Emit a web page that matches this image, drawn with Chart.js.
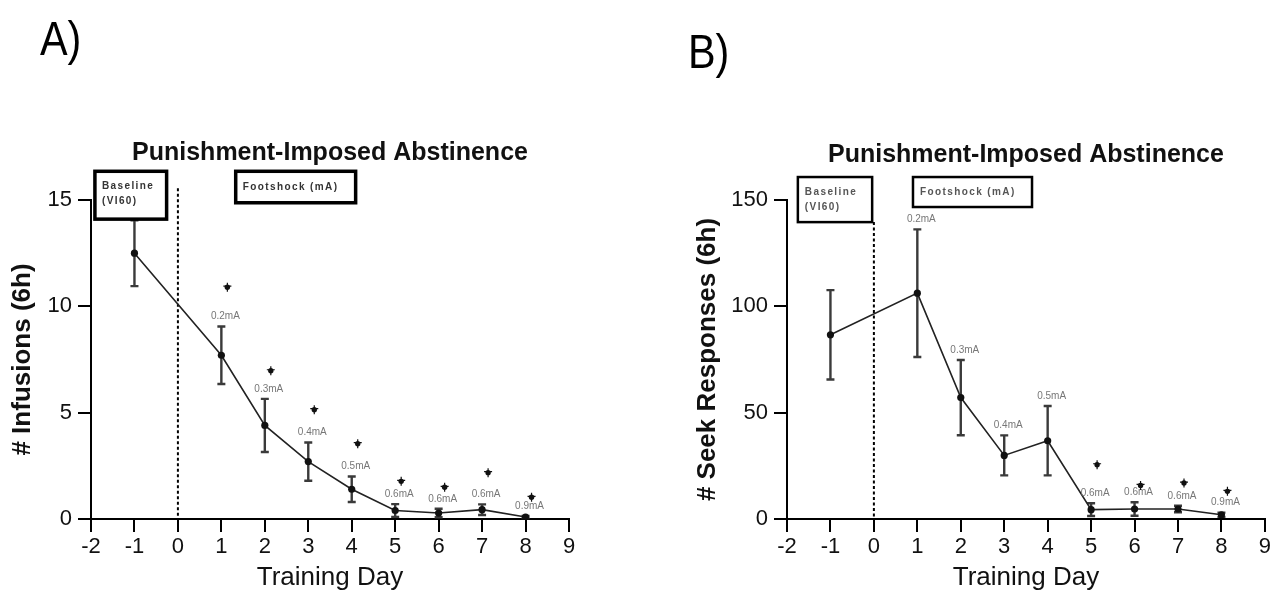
<!DOCTYPE html>
<html>
<head>
<meta charset="utf-8">
<script src="https://cdn.jsdelivr.net/npm/chart.js@4.4.1/dist/chart.umd.min.js"></script>
<style>
  body { margin: 0; background: #fff; width: 1273px; height: 602px; position: relative; overflow: hidden; }
  canvas { position: absolute; top: 0; }
</style>
</head>
<body>
<canvas id="chartA" width="640" height="602" style="left:0"></canvas>
<canvas id="chartB" width="633" height="602" style="left:640px"></canvas>
<script>
// training days (x) for every point
var days = [-1, 1, 2, 3, 4, 5, 6, 7, 8];
var doseLabels = ['', '0.2mA', '0.3mA', '0.4mA', '0.5mA', '0.6mA', '0.6mA', '0.6mA', '0.9mA'];
var xTicks = [-2, -1, 0, 1, 2, 3, 4, 5, 6, 7, 8, 9];

// panel A - infusions
var infusionsMean = [12.5, 7.7, 4.4, 2.7, 1.4, 0.4, 0.28, 0.44, 0.09];
var infusionsErr  = [1.55, 1.35, 1.25, 0.9, 0.6, 0.3, 0.2, 0.25, 0.05];
var infusionsStar = [null, 10.9, 6.97, 5.14, 3.54, 1.77, 1.49, 2.18, 1.02];
var infusionsTicks = [0, 5, 10, 15];

// panel B - seek responses
var seekMean = [86.6, 106.2, 57.1, 29.9, 36.8, 4.4, 4.7, 4.7, 2.0];
var seekErr  = [21, 30, 17.7, 9.4, 16.3, 3, 3.2, 1.5, 1];
var seekStar = [null, null, null, null, null, 25.5, 15.8, 16.9, 13.0];
var seekTicks = [0, 50, 100, 150];

var FONT = "'Liberation Sans', Arial, sans-serif";

var extras = {
  id: 'extras',
  beforeDatasetsDraw: function(chart) {
    var o = chart.options.plugins.extras;
    var ctx = chart.ctx, xs = chart.scales.x, ys = chart.scales.y;
    ctx.save();
    // dotted divider at day 0
    var x0 = xs.getPixelForValue(0);
    ctx.strokeStyle = '#000';
    ctx.lineWidth = 2;
    ctx.setLineDash([3, 2.5]);
    ctx.beginPath();
    ctx.moveTo(x0, ys.getPixelForValue(o.dividerTop));
    ctx.lineTo(x0, ys.getPixelForValue(0));
    ctx.stroke();
    ctx.setLineDash([]);
    // error bars
    ctx.strokeStyle = '#3a3a3a';
    ctx.lineWidth = 2.4;
    o.days.forEach(function(d, i) {
      var x = xs.getPixelForValue(d);
      var t = ys.getPixelForValue(o.mean[i] + o.err[i]);
      var b = ys.getPixelForValue(Math.max(0, o.mean[i] - o.err[i]));
      ctx.beginPath();
      ctx.moveTo(x, t); ctx.lineTo(x, b);
      ctx.moveTo(x - 4, t); ctx.lineTo(x + 4, t);
      ctx.moveTo(x - 4, b); ctx.lineTo(x + 4, b);
      ctx.stroke();
    });
    ctx.restore();
  },
  afterDraw: function(chart) {
    var o = chart.options.plugins.extras;
    var ctx = chart.ctx, xs = chart.scales.x, ys = chart.scales.y, ca = chart.chartArea;
    ctx.save();
    // panel letter (slightly condensed, like the original)
    ctx.fillStyle = '#000';
    ctx.font = '46px ' + FONT;
    ctx.textAlign = 'left';
    ctx.textBaseline = 'alphabetic';
    ctx.save();
    ctx.translate(o.letterX, o.letterY);
    ctx.scale(0.9, 1.06);
    ctx.fillText(o.letter, 0, 0);
    ctx.restore();
    // title
    ctx.font = 'bold 25px ' + FONT;
    ctx.textAlign = 'center';
    ctx.fillStyle = '#111';
    ctx.fillText('Punishment-Imposed Abstinence', (ca.left + ca.right) / 2, o.titleY);
    // boxes
    ctx.strokeStyle = '#000';
    ctx.lineWidth = o.boxWidth;
    o.boxes.forEach(function(bx) {
      var l = xs.getPixelForValue(bx.x0), r = xs.getPixelForValue(bx.x1);
      var t = ys.getPixelForValue(bx.y0), b = ys.getPixelForValue(bx.y1);
      ctx.fillStyle = '#fff';
      ctx.fillRect(l, t, r - l, b - t);
      ctx.strokeRect(l, t, r - l, b - t);
      ctx.fillStyle = o.boxText;
      ctx.font = 'bold 10px ' + FONT;
      ctx.letterSpacing = '1.4px';
      ctx.textAlign = 'left';
      ctx.textBaseline = 'middle';
      var h = b - t;
      if (bx.lines.length === 1) {
        ctx.fillText(bx.lines[0], l + 7, t + h / 2);
      } else {
        ctx.fillText(bx.lines[0], l + 7, t + 15);
        ctx.fillText(bx.lines[1], l + 7, t + 30);
      }
      ctx.letterSpacing = '0px';
    });
    // dose labels
    ctx.font = '10px ' + FONT;
    ctx.fillStyle = '#777';
    ctx.textAlign = 'center';
    ctx.textBaseline = 'middle';
    o.days.forEach(function(d, i) {
      if (!o.doses[i]) return;
      var x = xs.getPixelForValue(d) + 4;
      var t = ys.getPixelForValue(o.mean[i] + o.err[i]);
      ctx.fillText(o.doses[i], x, t - 10);
    });
    // significance marks
    ctx.fillStyle = '#111';
    ctx.strokeStyle = '#111';
    ctx.lineWidth = 1.2;
    o.days.forEach(function(d, i) {
      if (o.stars[i] == null) return;
      var x = xs.getPixelForValue(d) + 6, y = ys.getPixelForValue(o.stars[i]);
      ctx.beginPath();
      ctx.arc(x, y, 2.7, 0, Math.PI * 2);
      ctx.fill();
      ctx.beginPath();
      ctx.moveTo(x, y - 4.5); ctx.lineTo(x, y + 4.5);
      ctx.moveTo(x - 4, y - 1); ctx.lineTo(x + 4, y - 1);
      ctx.stroke();
    });
    ctx.restore();
  }
};

function makeChart(id, mean, err, stars, yTicks, yTitle, o) {
  var pts = days.map(function(d, i) { return { x: d, y: mean[i] }; });
  return new Chart(document.getElementById(id), {
    type: 'scatter',
    data: {
      datasets: [{
        data: pts,
        showLine: true,
        borderColor: '#222',
        borderWidth: 1.6,
        pointRadius: 3.6,
        pointBackgroundColor: '#111',
        pointBorderWidth: 0
      }]
    },
    options: {
      responsive: false,
      animation: false,
      devicePixelRatio: 1,
      layout: { padding: o.padding },
      scales: {
        x: {
          type: 'linear',
          min: xTicks[0],
          max: xTicks[xTicks.length - 1],
          afterBuildTicks: function(s) { s.ticks = xTicks.map(function(v) { return { value: v }; }); },
          afterFit: function(s) { s.height = 83; },
          grid: { drawOnChartArea: false, drawTicks: true, tickLength: 13, color: '#000', lineWidth: 2 },
          border: { display: true, color: '#000', width: 2 },
          ticks: { color: '#111', font: { family: FONT, size: 22 }, padding: 2 },
          title: { display: true, text: 'Training Day', color: '#111', font: { family: FONT, size: 26 }, padding: { bottom: 9 } }
        },
        y: {
          type: 'linear',
          min: yTicks[0],
          max: yTicks[yTicks.length - 1],
          afterBuildTicks: function(s) { s.ticks = yTicks.map(function(v) { return { value: v }; }); },
          afterFit: function(s) { s.width = o.yWidth; },
          grid: { drawOnChartArea: false, drawTicks: true, tickLength: 13, color: '#000', lineWidth: 2 },
          border: { display: true, color: '#000', width: 2 },
          ticks: { color: '#111', font: { family: FONT, size: 22 }, padding: 6 },
          title: { display: true, text: yTitle, color: '#111', font: { family: FONT, size: 26, weight: 'bold' }, padding: { top: 7 } }
        }
      },
      plugins: {
        legend: { display: false },
        tooltip: { enabled: false },
        extras: {
          days: days, mean: mean, err: err, stars: stars, doses: doseLabels,
          dividerTop: o.dividerTop, letter: o.letter, letterX: o.letterX, letterY: o.letterY,
          titleY: o.titleY, boxes: o.boxes, boxWidth: o.boxWidth, boxText: o.boxText
        }
      }
    },
    plugins: [extras]
  });
}

makeChart('chartA', infusionsMean, infusionsErr, infusionsStar, infusionsTicks, '# Infusions (6h)', {
  padding: { left: 0, right: 71, top: 200, bottom: 0 },
  yWidth: 91,
  dividerTop: 15.55,
  letter: 'A)', letterX: 40, letterY: 55,
  titleY: 160,
  boxWidth: 3.5,
  boxText: '#333',
  boxes: [
    { x0: -1.91, x1: -0.26, y0: 16.35, y1: 14.1, lines: ['Baseline', '(VI60)'] },
    { x0: 1.33, x1: 4.09, y0: 16.35, y1: 14.87, lines: ['Footshock (mA)'] }
  ]
});

makeChart('chartB', seekMean, seekErr, seekStar, seekTicks, '# Seek Responses (6h)', {
  padding: { left: 45, right: 8, top: 200, bottom: 0 },
  yWidth: 102,
  dividerTop: 139.6,
  letter: 'B)', letterX: 48, letterY: 68,
  titleY: 162,
  boxWidth: 2.5,
  boxText: '#555',
  boxes: [
    { x0: -1.75, x1: -0.04, y0: 160.8, y1: 139.6, lines: ['Baseline', '(VI60)'] },
    { x0: 0.9, x1: 3.64, y0: 160.8, y1: 146.7, lines: ['Footshock (mA)'] }
  ]
});
</script>
</body>
</html>
